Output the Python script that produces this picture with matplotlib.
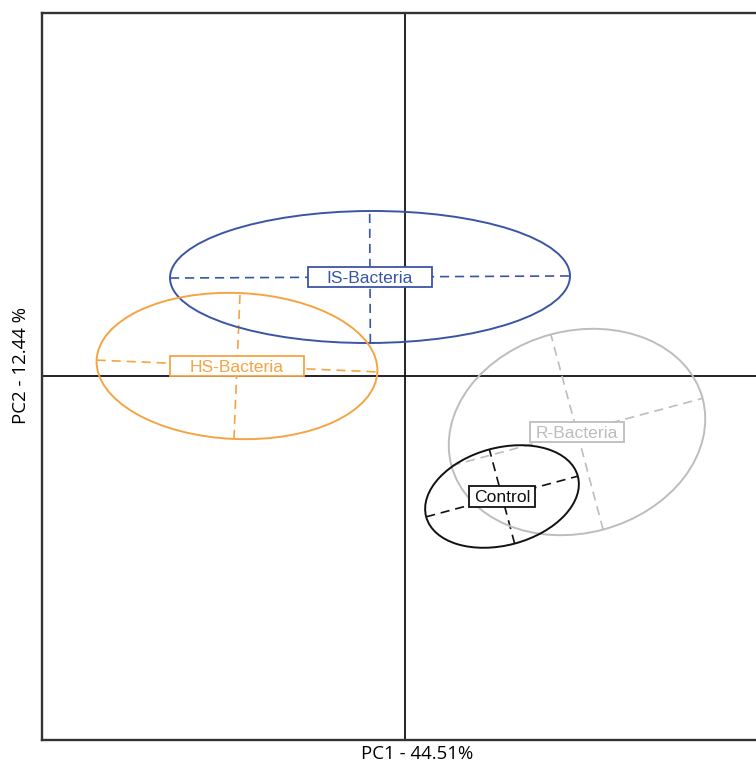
import numpy as np
import matplotlib
matplotlib.use("Agg")
import matplotlib.pyplot as plt
from matplotlib.patches import Ellipse, Rectangle

# ---- data (PCA score space) ----
groups = ["IS-Bacteria", "HS-Bacteria", "R-Bacteria", "Control"]
center_x = [-0.35, -1.68, 1.72, 0.97]
center_y = [0.99, 0.10, -0.56, -1.205]
axis_major = [4.00, 2.81, 2.60, 1.57]
axis_minor = [1.32, 1.46, 2.02, 0.975]
angle_deg = [0.3, -2.4, 15.0, 15.0]
x_label = "PC1 - 44.51%"
y_label = "PC2 - 12.44 %"

# ---- styles ----
colors = ["#3B55A6", "#F5A443", "#BDBDBD", "#111111"]
box_w = [1.24, 1.34, 0.94, 0.66]   # label box widths (axis units)
box_h = 0.205

fig = plt.figure(figsize=(7.56, 7.62), dpi=100)
ax = fig.add_axes([42/756, 22/762, (790-42)/756, (740-13)/762])
ax.set_xlim(-3.63, 3.85)
ax.set_ylim(-3.64, 3.63)
ax.set_xticks([]); ax.set_yticks([])
for s in ax.spines.values():
    s.set_linewidth(1.7)
    s.set_color("#333333")

ax.axhline(0, color="#111111", lw=1.3, zorder=1)
ax.axvline(0, color="#111111", lw=1.3, zorder=1)

for g, cx, cy, a, b, ang, c, bw in zip(groups, center_x, center_y, axis_major,
                                       axis_minor, angle_deg, colors, box_w):
    ax.add_patch(Ellipse((cx, cy), a, b, angle=ang, fill=False, edgecolor=c,
                         lw=1.4, zorder=3))
    t = np.deg2rad(ang)
    ux, uy = np.cos(t), np.sin(t)
    vx, vy = -np.sin(t), np.cos(t)
    ax.plot([cx - ux*a/2, cx + ux*a/2], [cy - uy*a/2, cy + uy*a/2],
            color=c, lw=1.2, ls=(0, (5.5, 3.5)), zorder=2)
    ax.plot([cx - vx*b/2, cx + vx*b/2], [cy - vy*b/2, cy + vy*b/2],
            color=c, lw=1.2, ls=(0, (5.5, 3.5)), zorder=2)
    ax.add_patch(Rectangle((cx - bw/2, cy - box_h/2), bw, box_h,
                           facecolor="white", edgecolor=c, lw=1.3, zorder=4))
    ax.text(cx, cy, g, color=c, ha="center", va="center_baseline",
            fontsize=12.6, family="Liberation Sans", zorder=5)

fig.text(417/756, 1 - 754/762, x_label, ha="center", va="center",
         fontsize=13.4, family="Open Sans")
fig.text(21/756, 1 - 365/762, y_label, ha="center", va="center",
         rotation=90, fontsize=13.4, family="Open Sans")

fig.savefig("out.png", dpi=100)
